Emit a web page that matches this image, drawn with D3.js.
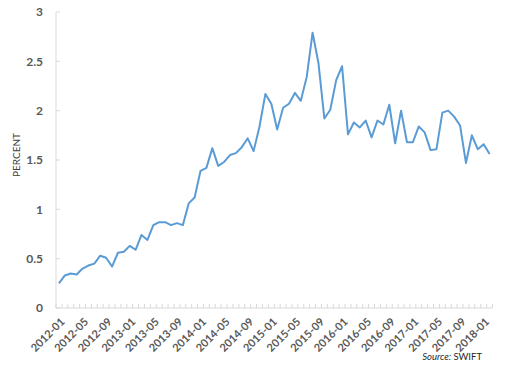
<!DOCTYPE html>
<html>
<head>
<meta charset="utf-8">
<script src="https://cdn.jsdelivr.net/npm/d3@7"></script>
<style>
  body { margin: 0; background: #fff; }
  svg { display: block; font-family: Lato, "Liberation Sans", sans-serif; }
</style>
</head>
<body>
<svg id="chart" width="506" height="367"></svg>
<script>
// monthly share, 2012-01 .. 2018-02
const startYear = 2012, startMonth = 1;
const values = [
  0.25, 0.33, 0.35, 0.34, 0.40, 0.43, 0.45, 0.53, 0.51, 0.42, 0.56, 0.57,
  0.63, 0.59, 0.74, 0.69, 0.84, 0.87, 0.87, 0.84, 0.86, 0.84, 1.06, 1.12,
  1.39, 1.42, 1.62, 1.44, 1.48, 1.55, 1.57, 1.63, 1.72, 1.59, 1.84, 2.17,
  2.07, 1.81, 2.03, 2.07, 2.18, 2.10, 2.34, 2.79, 2.48, 1.92, 2.01, 2.31,
  2.45, 1.76, 1.88, 1.83, 1.90, 1.73, 1.90, 1.86, 2.06, 1.67, 2.00, 1.68,
  1.68, 1.84, 1.78, 1.60, 1.61, 1.98, 2.00, 1.94, 1.85, 1.47, 1.75, 1.61,
  1.66, 1.56
];
const months = values.map((v, i) => {
  const m = startMonth - 1 + i;
  return `${startYear + Math.floor(m / 12)}-${String(m % 12 + 1).padStart(2, "0")}`;
});
const yTicks = [0, 0.5, 1, 1.5, 2, 2.5, 3];
const labelEvery = 4;

const svg = d3.select("#chart");
const mLeft = 56, mRight = 492.5, mTop = 12, mBottom = 308;

const x = d3.scaleBand().domain(months).range([mLeft, mRight]);
const y = d3.scaleLinear().domain([0, 3]).range([mBottom, mTop]);

// y axis
svg.append("line").attr("x1", mLeft).attr("x2", mLeft).attr("y1", mTop).attr("y2", mBottom)
  .attr("stroke", "#d9d9d9");
svg.append("g").selectAll("line").data(yTicks).join("line")
  .attr("x1", mLeft).attr("x2", mLeft + 4).attr("y1", d => y(d)).attr("y2", d => y(d))
  .attr("stroke", "#d9d9d9");
svg.append("g").selectAll("text").data(yTicks).join("text")
  .attr("x", mLeft - 13).attr("y", d => y(d)).attr("dy", "0.35em")
  .attr("text-anchor", "end").attr("font-size", 12).attr("font-weight", "bold")
  .attr("fill", "#595959").text(d => d);

// x axis
svg.append("line").attr("x1", mLeft).attr("x2", mRight).attr("y1", mBottom).attr("y2", mBottom)
  .attr("stroke", "#d9d9d9");
svg.append("g").selectAll("line").data(months.concat([null])).join("line")
  .attr("x1", (d, i) => mLeft + i * x.step()).attr("x2", (d, i) => mLeft + i * x.step())
  .attr("y1", mBottom - 4).attr("y2", mBottom)
  .attr("stroke", "#d9d9d9");
svg.append("g").selectAll("text").data(months.filter((d, i) => i % labelEvery === 0)).join("text")
  .attr("transform", d => `translate(${x(d) + x.bandwidth() / 2 + 1},${mBottom + 9}) rotate(-45)`)
  .attr("text-anchor", "end").attr("dy", "0.7em").attr("font-size", 11).attr("font-weight", "bold")
  .attr("fill", "#595959").text(d => d);

// axis title
svg.append("text").attr("transform", `translate(20,${(mTop + mBottom) / 2 - 5}) rotate(-90)`)
  .attr("text-anchor", "middle").attr("font-size", 10).attr("fill", "#404040")
  .text("PERCENT");

// line
const line = d3.line()
  .x((d, i) => x(months[i]) + x.bandwidth() / 2)
  .y(d => y(d));
svg.append("path").datum(values).attr("d", line)
  .attr("fill", "none").attr("stroke", "#5b9bd5").attr("stroke-width", 2)
  .attr("stroke-linejoin", "round");

// source note
const src = svg.append("text").attr("x", 482).attr("y", 360).attr("text-anchor", "end")
  .attr("font-size", 9.5).attr("fill", "#262626");
src.append("tspan").attr("font-style", "italic").text("Source: ");
src.append("tspan").text("SWIFT");
</script>
</body>
</html>
